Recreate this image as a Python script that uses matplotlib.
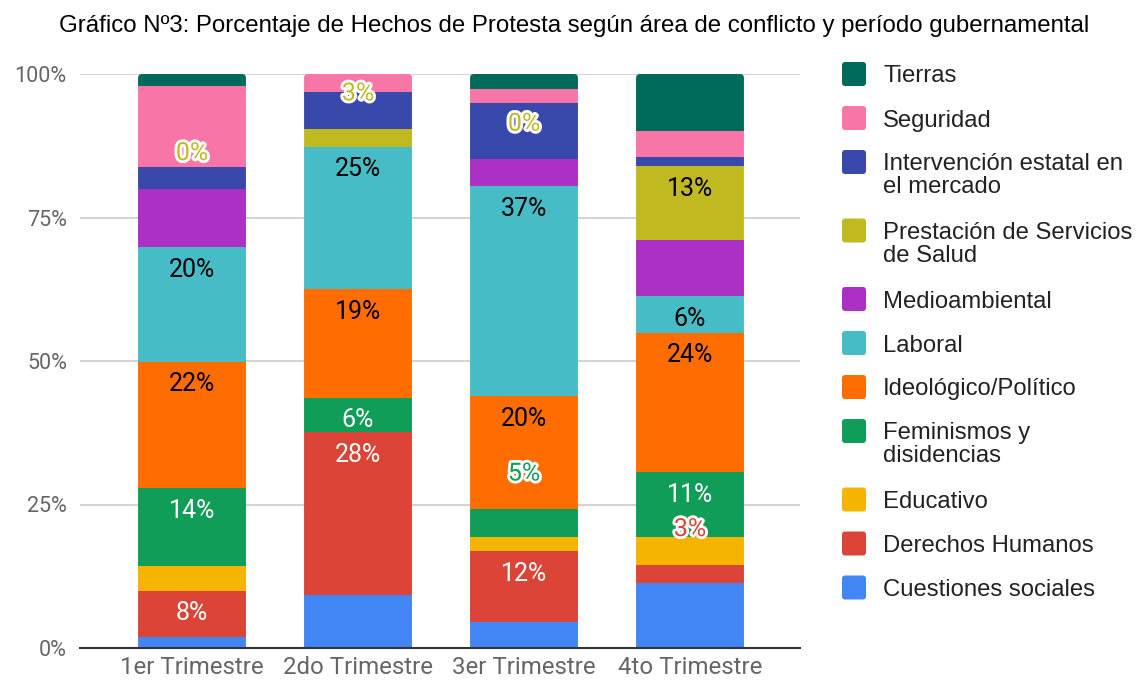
import matplotlib
matplotlib.use("Agg")
import matplotlib.pyplot as plt
import matplotlib.patheffects as pe
from matplotlib.patches import FancyBboxPatch
from matplotlib.ticker import FixedLocator, FuncFormatter
import numpy as np

# ---------------- data (percent of protest events per period) ----------------
periods = ["1er Trimestre", "2do Trimestre", "3er Trimestre", "4to Trimestre"]

cuestiones_sociales = [1.9, 9.2, 4.6, 11.3]
derechos_humanos = [8.1, 28.4, 12.3, 3.2]
educativo = [4.2, 0.0, 2.4, 4.9]
feminismos = [13.6, 6.0, 4.9, 11.2]
ideologico = [22.1, 18.9, 19.7, 24.3]
laboral = [19.9, 24.8, 36.6, 6.4]
medioambiental = [10.2, 0.0, 4.7, 9.7]
prestacion_salud = [0.0, 3.1, 0.0, 12.9]
intervencion = [3.8, 6.4, 9.8, 1.7]
seguridad = [14.1, 3.2, 2.5, 4.5]
tierras = [2.1, 0.0, 2.6, 9.9]

# stacking order bottom -> top
series_names = ["Cuestiones sociales", "Derechos Humanos", "Educativo",
                "Feminismos y\ndisidencias", "Ideológico/Político", "Laboral",
                "Medioambiental", "Prestación de Servicios\nde Salud",
                "Intervención estatal en\nel mercado", "Seguridad", "Tierras"]
series_values = [cuestiones_sociales, derechos_humanos, educativo, feminismos,
                 ideologico, laboral, medioambiental, prestacion_salud,
                 intervencion, seguridad, tierras]
series_colors = ["#4285f4", "#db4437", "#f4b400", "#0f9d58", "#ff6d01",
                 "#46bdc6", "#ab30c4", "#c1b920", "#3949ab", "#f875a7", "#006b5a"]
# series whose segments carry data labels, with label colour inside the bar
labeled = {"Derechos Humanos": "white", "Feminismos y\ndisidencias": "white",
           "Ideológico/Político": "black", "Laboral": "black",
           "Prestación de Servicios\nde Salud": "black"}

title = "Gráfico Nº3: Porcentaje de Hechos de Protesta según área de conflicto y período gubernamental"

# ---------------- figure ----------------
W, H = 1136, 682
fig = plt.figure(figsize=(W / 100, H / 100), dpi=100)
fig.patch.set_facecolor("white")

def fx(px):
    return px / W

def fy(py):
    return 1 - py / H

ax = fig.add_axes([fx(80), fy(648), fx(800) - fx(80), fy(74) - fy(648)])
ax.set_xlim((80 - 192) / 166, (800 - 192) / 166)
ax.set_ylim(0, 1)

vals = np.array(series_values, dtype=float)
fracs = vals / vals.sum(axis=0)
x = np.arange(len(periods))
bar_w = 0.65
bottom = np.zeros(len(periods))

# rounded-top clip shapes for each stacked column
px_x = 1 / 166.0   # data units per pixel (x)
px_y = 1 / 574.0   # data units per pixel (y)
clips = []
for i in range(len(periods)):
    cp = FancyBboxPatch((x[i] - bar_w / 2, -0.05), bar_w, 1.05,
                        boxstyle="round,pad=0,rounding_size=%f" % (4 * px_x),
                        mutation_aspect=px_y / px_x, transform=ax.transData,
                        facecolor="none", edgecolor="none")
    clips.append(cp)

label_font = dict(family="Roboto", fontsize=18)
for name, col, fr in zip(series_names, series_colors, fracs):
    bars = ax.bar(x, fr, bottom=bottom, width=bar_w, color=col, linewidth=0, zorder=2)
    for i, r in enumerate(bars):
        r.set_clip_path(clips[i])
    if name in labeled:
        for i in range(len(periods)):
            top = bottom[i] + fr[i]
            txt = f"{round(fr[i] * 100):.0f}%"
            if fr[i] >= 0.052:
                ax.annotate(txt, (x[i], top), xytext=(0, -29.5),
                            textcoords="offset pixels", ha="center", va="baseline",
                            color=labeled[name], zorder=5, **label_font)
            else:
                ax.annotate(txt, (x[i], top), xytext=(0, 28.7),
                            textcoords="offset pixels", ha="center", va="baseline",
                            color=col, zorder=6, **label_font,
                            path_effects=[pe.withStroke(linewidth=4, foreground="white")])
    bottom += fr

ax.yaxis.set_major_locator(FixedLocator([0, 0.25, 0.5, 0.75, 1.0]))
ax.yaxis.set_major_formatter(FuncFormatter(lambda v, p: f"{v * 100:.0f}%"))
ax.set_xticks(x)
ax.set_xticklabels(periods)
ax.grid(axis="y", color="#cccccc", linewidth=1.2, zorder=0)
ax.set_axisbelow(True)
for s in ["top", "right", "left"]:
    ax.spines[s].set_visible(False)
ax.spines["bottom"].set_color("#333333")
ax.spines["bottom"].set_linewidth(1.5)
ax.spines["bottom"].set_zorder(3)
ax.tick_params(axis="both", length=0)
ax.tick_params(axis="y", pad=9.5, labelsize=15.5, labelcolor="#666666")
ax.tick_params(axis="x", pad=6, labelsize=17.3, labelcolor="#666666")
for t in ax.get_xticklabels() + ax.get_yticklabels():
    t.set_family("Roboto")

# ---------------- title ----------------
fig.text(fx(574), fy(31.7), title, ha="center", va="baseline",
         fontsize=17.3, family="Liberation Sans", color="#000000")

# ---------------- legend (manual, top to bottom) ----------------
yc = 74
for name, col in zip(series_names[::-1], series_colors[::-1]):
    sq = FancyBboxPatch((fx(842), fy(yc + 12)), 24 / W, 24 / H,
                        boxstyle="round,pad=0,rounding_size=%f" % (3 / W),
                        mutation_aspect=W / H, transform=fig.transFigure,
                        facecolor=col, edgecolor="none")
    fig.patches.append(sq)
    lines = name.split("\n")
    for j, line in enumerate(lines):
        fig.text(fx(883), fy(yc + 8.5 + j * 22.5), line, va="baseline", ha="left",
                 fontsize=17.2, family="Liberation Sans", color="#222222")
    yc += 44 + 24.5 * (len(lines) - 1)

fig.savefig("out.png", dpi=100)
